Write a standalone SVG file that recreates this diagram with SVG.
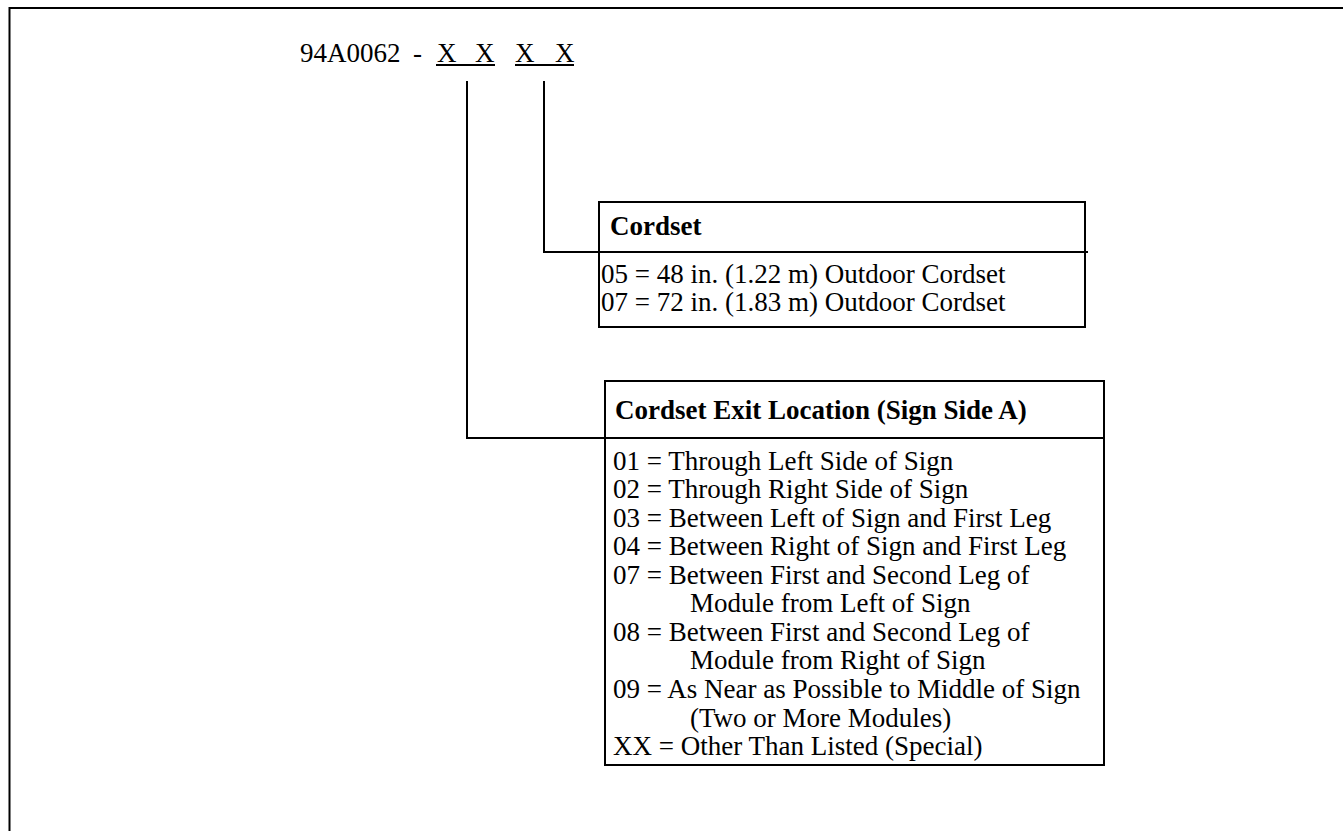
<svg xmlns="http://www.w3.org/2000/svg" width="1343" height="831" viewBox="0 0 1343 831">
<style>
text{font-family:"Liberation Serif","Times New Roman",serif;font-size:27px;fill:#000}
.b{font-weight:bold}
.ln{stroke:#000;stroke-width:2;fill:none}
</style>
<rect x="0" y="0" width="1343" height="831" fill="#fff"/>
<g id="frame"><path class="ln" d="M9.5,832 V8 H1343"/></g>
<g id="code">
<text x="300" y="62">94A0062</text>
<text x="413" y="62">-</text>
<text x="437" y="62">X</text><text x="475" y="62">X</text>
<text x="515" y="62">X</text><text x="555" y="62">X</text>
<line class="ln" x1="436" y1="65" x2="495" y2="65"/>
<line class="ln" x1="515" y1="65" x2="574" y2="65"/>
</g>
<g id="connectors">
<path class="ln" d="M467,81 V438 H605"/>
<path class="ln" d="M544,81 V252 H599"/>
</g>
<g id="cordset">
<rect class="ln" x="599" y="202" width="486" height="125"/>
<line class="ln" x1="599" y1="252" x2="1088" y2="252"/>
<text class="b" x="610" y="235">Cordset</text>
<text x="601" y="283">05 = 48 in. (1.22 m) Outdoor Cordset</text>
<text x="601" y="311">07 = 72 in. (1.83 m) Outdoor Cordset</text>
</g>
<g id="exit">
<rect class="ln" x="605" y="381" width="499" height="384"/>
<line class="ln" x1="605" y1="438" x2="1104" y2="438"/>
<text class="b" x="615" y="419">Cordset Exit Location (Sign Side A)</text>
<text x="613" y="470">01 = Through Left Side of Sign</text>
<text x="613" y="498">02 = Through Right Side of Sign</text>
<text x="613" y="527">03 = Between Left of Sign and First Leg</text>
<text x="613" y="555">04 = Between Right of Sign and First Leg</text>
<text x="613" y="584">07 = Between First and Second Leg of</text>
<text x="690" y="612">Module from Left of Sign</text>
<text x="613" y="641">08 = Between First and Second Leg of</text>
<text x="690" y="669">Module from Right of Sign</text>
<text x="613" y="698">09 = As Near as Possible to Middle of Sign</text>
<text x="690" y="727">(Two or More Modules)</text>
<text x="613" y="755">XX = Other Than Listed (Special)</text>
</g>
</svg>
